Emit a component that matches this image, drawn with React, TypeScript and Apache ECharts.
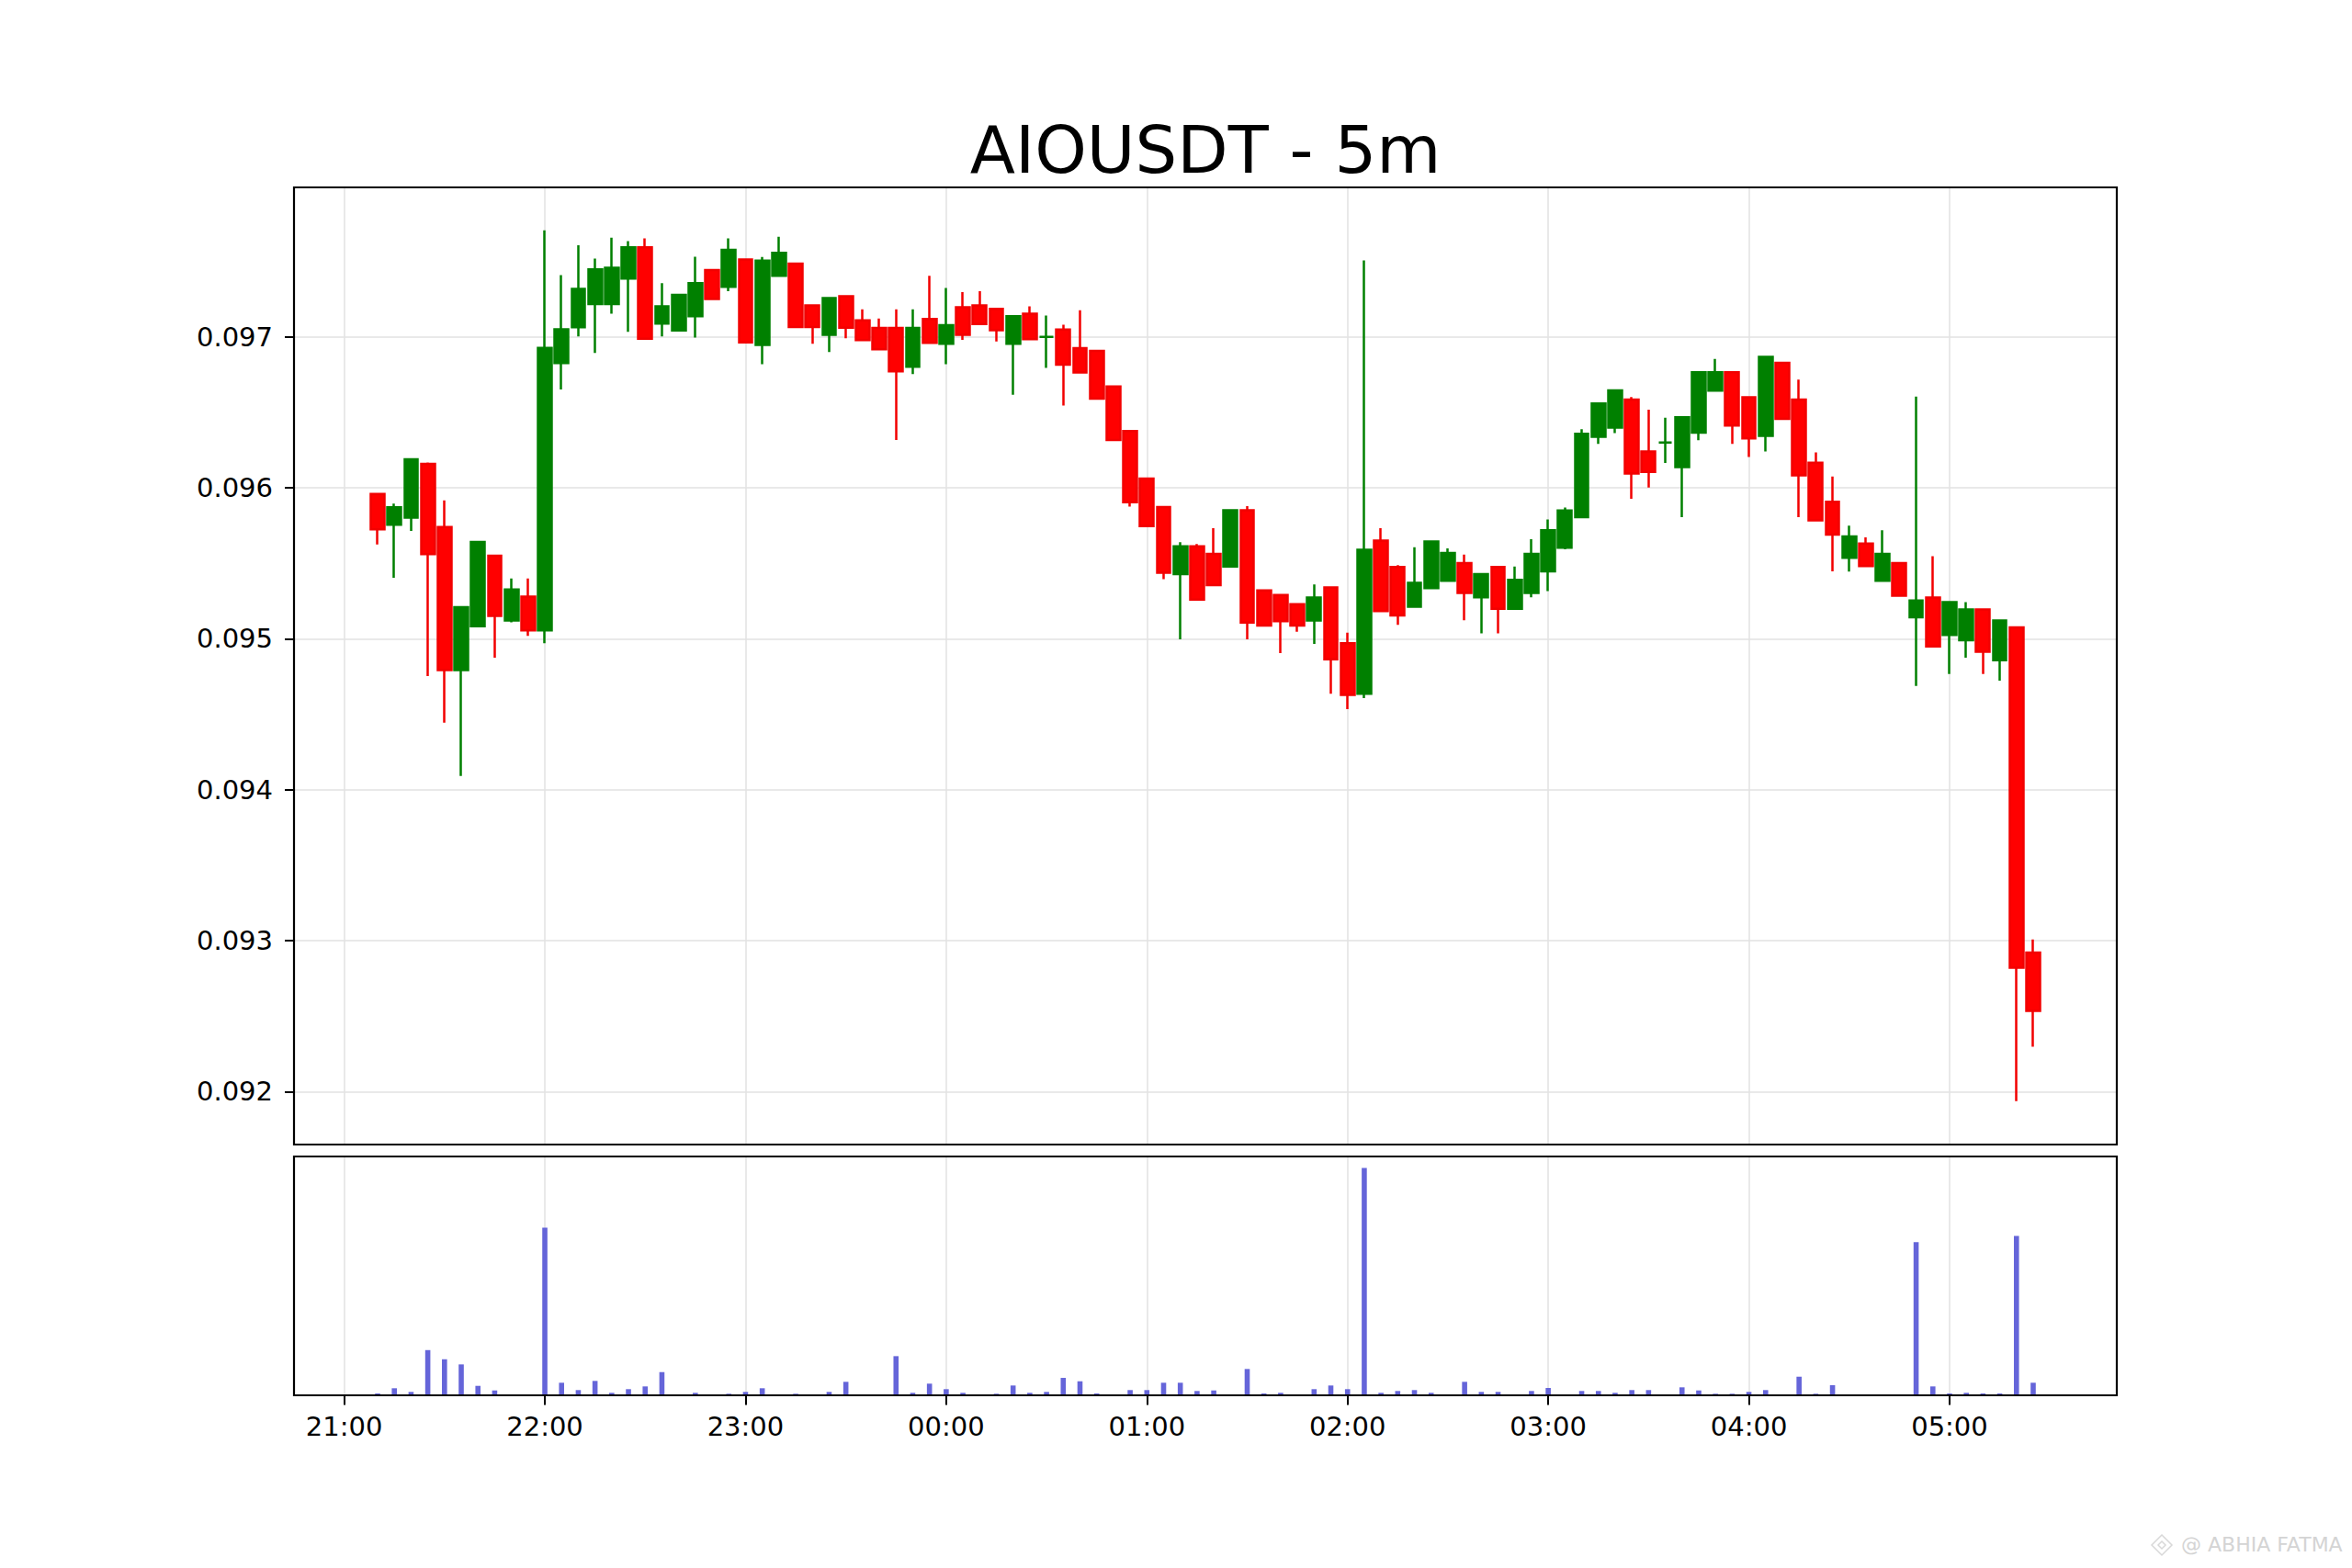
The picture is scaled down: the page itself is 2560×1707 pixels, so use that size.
import React, { useEffect, useRef } from 'react';
import * as echarts from 'echarts';

// ---- time slots (5-minute bars) on the x axis ----
const slotCount = 110; // 20:45 .. 05:50
const firstSlotMinutes = 20 * 60 + 45;
const firstCandleSlot = 5; // 21:10
const hourLabels = ['21:00', '22:00', '23:00', '00:00', '01:00', '02:00', '03:00', '04:00', '05:00'];
const yTicks = [0.092, 0.093, 0.094, 0.095, 0.096, 0.097];

const timeSlots: string[] = Array.from({ length: slotCount }, (_, k) => {
  const m = (firstSlotMinutes + 5 * k) % 1440;
  const hh = String(Math.floor(m / 60)).padStart(2, '0');
  const mm = String(m % 60).padStart(2, '0');
  return hh + ':' + mm;
});

// ---- OHLC values, 21:10 .. 05:25 ----
const opens = [
  0.095960, 0.095755, 0.095803, 0.096159, 0.095740, 0.094793, 0.095083, 0.095550, 0.095121, 0.095280,
  0.095056, 0.096826, 0.097063, 0.097217, 0.097217, 0.097386, 0.097593, 0.097088, 0.097043, 0.097136,
  0.097442, 0.097331, 0.097513, 0.096947, 0.097404, 0.097485, 0.097208, 0.097014, 0.097269, 0.097109,
  0.097059, 0.097059, 0.096802, 0.097119, 0.096954, 0.097196, 0.097208, 0.097186, 0.096954, 0.097154,
  0.097000, 0.097048, 0.096925, 0.096907, 0.096671, 0.096376, 0.096061, 0.095872, 0.095429, 0.095613,
  0.095563, 0.095478, 0.095852, 0.095320, 0.095290, 0.095229, 0.095121, 0.095340, 0.094970, 0.094636,
  0.095650, 0.095476, 0.095213, 0.095336, 0.095385, 0.095502, 0.095275, 0.095476, 0.095198, 0.095304,
  0.095447, 0.095603, 0.095806, 0.096338, 0.096399, 0.096585, 0.096241, 0.096300, 0.096138, 0.096366,
  0.096644, 0.096765, 0.096599, 0.096344, 0.096828, 0.096585, 0.096166, 0.095907, 0.095536, 0.095630,
  0.095385, 0.095502, 0.095142, 0.095273, 0.095026, 0.094990, 0.095194, 0.094858, 0.095075, 0.092922,
];
const closes = [
  0.095725, 0.095871, 0.096189, 0.095561, 0.094793, 0.095210, 0.095641, 0.095152, 0.095326, 0.095056,
  0.096927, 0.097050, 0.097318, 0.097447, 0.097457, 0.097593, 0.096987, 0.097202, 0.097278, 0.097356,
  0.097250, 0.097576, 0.096964, 0.097505, 0.097556, 0.097065, 0.097065, 0.097257, 0.097061, 0.096978,
  0.096917, 0.096772, 0.097059, 0.096960, 0.097077, 0.097014, 0.097085, 0.097044, 0.097137, 0.096984,
  0.097000, 0.096816, 0.096764, 0.096590, 0.096317, 0.095905, 0.095747, 0.095437, 0.095613, 0.095259,
  0.095356, 0.095852, 0.095107, 0.095087, 0.095117, 0.095087, 0.095273, 0.094864, 0.094628, 0.095589,
  0.095184, 0.095154, 0.095370, 0.095644, 0.095569, 0.095304, 0.095429, 0.095198, 0.095391, 0.095563,
  0.095719, 0.095850, 0.096358, 0.096559, 0.096646, 0.096095, 0.096105, 0.096300, 0.096468, 0.096765,
  0.096765, 0.096413, 0.096328, 0.096868, 0.096457, 0.096083, 0.095785, 0.095690, 0.095678, 0.095482,
  0.095563, 0.095285, 0.095253, 0.094949, 0.095243, 0.095194, 0.094915, 0.095121, 0.092822, 0.092536,
];
const lows = [
  0.095624, 0.095404, 0.095715, 0.094753, 0.094444, 0.094091, 0.095083, 0.094874, 0.095109, 0.095020,
  0.094970, 0.096652, 0.097003, 0.096894, 0.097154, 0.097033, 0.096987, 0.097003, 0.097043, 0.096995,
  0.097250, 0.097303, 0.096964, 0.096818, 0.097404, 0.097065, 0.096954, 0.096899, 0.096990, 0.096978,
  0.096917, 0.096317, 0.096754, 0.096954, 0.096818, 0.096980, 0.097085, 0.096970, 0.096616, 0.096984,
  0.096794, 0.096545, 0.096764, 0.096590, 0.096317, 0.095875, 0.095747, 0.095395, 0.094996, 0.095259,
  0.095356, 0.095478, 0.094996, 0.095087, 0.094905, 0.095047, 0.094966, 0.094636, 0.094534, 0.094607,
  0.095184, 0.095093, 0.095213, 0.095336, 0.095385, 0.095123, 0.095036, 0.095036, 0.095198, 0.095275,
  0.095316, 0.095593, 0.095806, 0.096291, 0.096362, 0.095927, 0.096002, 0.096164, 0.095806, 0.096316,
  0.096644, 0.096291, 0.096204, 0.096241, 0.096457, 0.095806, 0.095785, 0.095447, 0.095445, 0.095482,
  0.095385, 0.095285, 0.094688, 0.094949, 0.094767, 0.094874, 0.094767, 0.094723, 0.091937, 0.092298,
];
const highs = [
  0.095960, 0.095896, 0.096189, 0.096167, 0.095917, 0.095210, 0.095641, 0.095550, 0.095399, 0.095399,
  0.097705, 0.097409, 0.097606, 0.097518, 0.097657, 0.097634, 0.097652, 0.097356, 0.097278, 0.097530,
  0.097442, 0.097652, 0.097513, 0.097529, 0.097663, 0.097485, 0.097208, 0.097257, 0.097269, 0.097182,
  0.097121, 0.097182, 0.097182, 0.097404, 0.097323, 0.097297, 0.097303, 0.097186, 0.097137, 0.097202,
  0.097141, 0.097081, 0.097176, 0.096907, 0.096671, 0.096376, 0.096061, 0.095872, 0.095640, 0.095628,
  0.095733, 0.095852, 0.095879, 0.095320, 0.095290, 0.095229, 0.095360, 0.095340, 0.095040, 0.097507,
  0.095733, 0.095488, 0.095607, 0.095644, 0.095599, 0.095557, 0.095429, 0.095476, 0.095478, 0.095660,
  0.095790, 0.095870, 0.096389, 0.096559, 0.096646, 0.096601, 0.096518, 0.096464, 0.096468, 0.096765,
  0.096854, 0.096765, 0.096599, 0.096874, 0.096828, 0.096717, 0.096235, 0.096075, 0.095749, 0.095672,
  0.095719, 0.095502, 0.096605, 0.095547, 0.095243, 0.095243, 0.095194, 0.095121, 0.095075, 0.093008,
];
// volume (thousands)
const volumes = [
  2.0, 7.7, 3.7, 49.3, 39.3, 33.7, 10.3, 5.3, 0.7, 0.7,
  182.7, 13.7, 5.7, 15.7, 2.7, 6.7, 9.7, 25.3, 0.4, 2.7,
  0.4, 1.7, 3.7, 7.7, 0.4, 1.7, 0.4, 3.7, 14.7, 0.4,
  0.4, 42.7, 2.7, 12.7, 6.7, 2.7, 0.4, 1.7, 10.7, 2.7,
  3.7, 19.0, 15.3, 2.0, 0.4, 5.7, 5.7, 13.7, 13.7, 4.7,
  5.3, 0.5, 28.7, 2.0, 2.7, 0.5, 6.7, 10.7, 6.7, 248.0,
  2.7, 4.7, 5.7, 2.7, 0.4, 14.7, 3.7, 3.7, 0.4, 4.7,
  8.0, 0.4, 4.7, 4.7, 2.7, 5.7, 5.7, 0.4, 8.7, 5.3,
  1.7, 1.7, 3.7, 5.7, 0.4, 20.3, 1.7, 11.0, 0.4, 0.4,
  0.4, 0.4, 167.0, 9.7, 2.0, 2.7, 2.0, 2.0, 173.7, 13.7,
];

const priceMin = 0.09165;
const priceMax = 0.09799;
const volumeMax = 260.4;

const FONT = '"DejaVu Sans", "Liberation Sans", sans-serif';
const GRID_COLOR = '#e2e2e2';

const isHour = (_i: number, v: string) => hourLabels.indexOf(v) >= 0;

function buildOption() {
  const candleData = opens.map((o, i) => [timeSlots[firstCandleSlot + i], o, closes[i], lows[i], highs[i]]);
  const volumeData = volumes.map((v, i) => [timeSlots[firstCandleSlot + i], v]);

  const G1 = { left: 320, top: 204, width: 1984, height: 1042 };
  const G2 = { left: 320, top: 1259, width: 1984, height: 260 };

  return {
    animation: false,
    backgroundColor: '#ffffff',
    grid: [
      { ...G1, show: false },
      { ...G2, show: false },
    ],
    xAxis: [
      {
        type: 'category',
        gridIndex: 0,
        data: timeSlots,
        boundaryGap: false,
        axisLine: { show: false },
        axisTick: { show: false },
        axisLabel: { show: false },
        splitLine: { show: true, interval: isHour, lineStyle: { color: GRID_COLOR, width: 1.5 } },
      },
      {
        type: 'category',
        gridIndex: 1,
        data: timeSlots,
        boundaryGap: false,
        axisLine: { show: false },
        axisTick: { show: true, interval: isHour, length: 10.5, lineStyle: { color: '#000', width: 2 } },
        axisLabel: {
          show: true,
          interval: isHour,
          fontSize: 29,
          fontFamily: FONT,
          color: '#000',
          margin: 19,
        },
        splitLine: { show: true, interval: isHour, lineStyle: { color: GRID_COLOR, width: 1.5 } },
      },
    ],
    yAxis: [
      {
        type: 'value',
        gridIndex: 0,
        min: priceMin,
        max: priceMax,
        splitNumber: 6,
        axisLine: { show: false },
        axisTick: { show: true, length: 10, lineStyle: { color: '#000', width: 2 }, customValues: yTicks },
        axisLabel: {
          show: true,
          fontSize: 29,
          fontFamily: FONT,
          color: '#000',
          margin: 23,
          customValues: yTicks,
          formatter: (v: number) => (Math.round(v * 1000) / 1000).toFixed(3),
        },
        splitLine: { show: true, lineStyle: { color: GRID_COLOR, width: 1.5 } },
      },
      {
        type: 'value',
        gridIndex: 1,
        min: 0,
        max: volumeMax,
        axisLine: { show: false },
        axisTick: { show: false },
        axisLabel: { show: false },
        splitLine: { show: false },
      },
    ],
    series: [
      {
        type: 'candlestick',
        xAxisIndex: 0,
        yAxisIndex: 0,
        encode: { x: 0, y: [1, 2, 3, 4] },
        data: candleData,
        barWidth: '84%',
        itemStyle: {
          color: '#008000',
          color0: '#ff0000',
          borderColor: '#008000',
          borderColor0: '#f20000',
          borderWidth: 2.5,
        },
      },
      {
        type: 'bar',
        xAxisIndex: 1,
        yAxisIndex: 1,
        encode: { x: 0, y: 1 },
        data: volumeData,
        barWidth: 5.6,
        itemStyle: { color: '#6565d9' },
      },
    ],
    graphic: [
      {
        type: 'rect',
        silent: true,
        z: 100,
        shape: { x: G1.left, y: G1.top, width: G1.width, height: G1.height },
        style: { fill: 'none', stroke: '#000', lineWidth: 2.2 },
      },
      {
        type: 'rect',
        silent: true,
        z: 100,
        shape: { x: G2.left, y: G2.top, width: G2.width, height: G2.height },
        style: { fill: 'none', stroke: '#000', lineWidth: 2.2 },
      },
      {
        type: 'text',
        silent: true,
        z: 100,
        x: 1312,
        y: 163,
        style: {
          text: 'AIOUSDT - 5m',
          fontSize: 72,
          fontFamily: FONT,
          fill: '#000',
          align: 'center',
          verticalAlign: 'middle',
          textAlign: 'center',
          textVerticalAlign: 'middle',
        },
      },
      {
        type: 'polygon',
        silent: true,
        z: 100,
        shape: { points: [[2353, 1671], [2364, 1682], [2353, 1693], [2342, 1682]] },
        style: { fill: 'none', stroke: '#d8d8d8', lineWidth: 1.5 },
      },
      {
        type: 'polygon',
        silent: true,
        z: 100,
        shape: { points: [[2353, 1678], [2357, 1682], [2353, 1686], [2349, 1682]] },
        style: { fill: 'none', stroke: '#d8d8d8', lineWidth: 1.5 },
      },
      {
        type: 'text',
        silent: true,
        z: 100,
        x: 2374,
        y: 1681,
        style: {
          text: '@ ABHIA FATMA',
          fontSize: 22,
          fontFamily: '"DejaVu Sans", sans-serif',
          fill: '#d4d4d4',
          align: 'left',
          verticalAlign: 'middle',
          textAlign: 'left',
          textVerticalAlign: 'middle',
        },
      },
    ],
  };
}

export default function App() {
  const ref = useRef<HTMLDivElement>(null);
  useEffect(() => {
    if (!ref.current) return;
    const chart = echarts.init(ref.current, null, { renderer: 'svg' });
    chart.setOption(buildOption() as any);
    return () => chart.dispose();
  }, []);
  return (
    <div
      ref={ref}
      style={{ position: 'absolute', left: 0, top: 0, width: 2560, height: 1707, background: '#fff' }}
    />
  );
}
